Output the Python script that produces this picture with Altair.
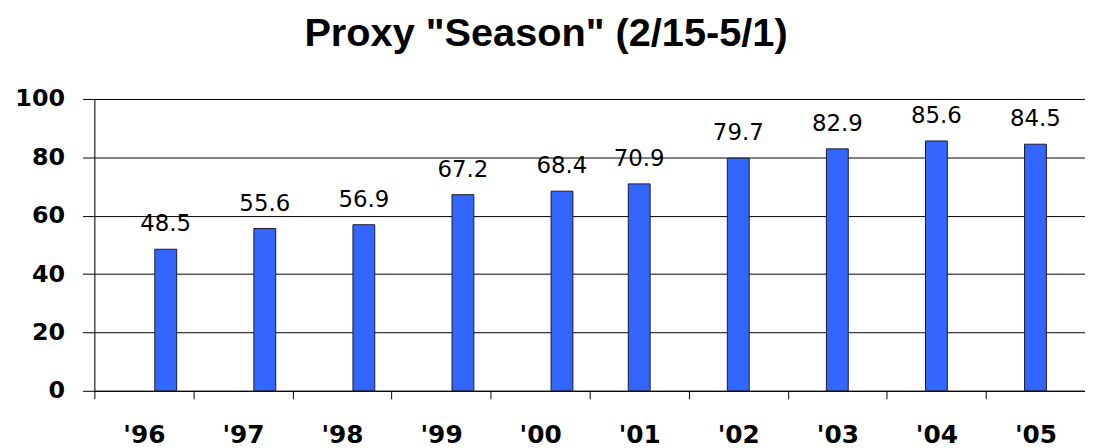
import altair as alt
import pandas as pd

years = ["'96", "'97", "'98", "'99", "'00", "'01", "'02", "'03", "'04", "'05"]
values = [48.5, 55.6, 56.9, 67.2, 68.4, 70.9, 79.7, 82.9, 85.6, 84.5]
series = ["early"] * 5 + ["late"] * 5
y_ticks = [0, 20, 40, 60, 80, 100]

df = pd.DataFrame({"year": years, "value": values, "series": series})

x_enc = alt.X("year:N", sort=years,
              scale=alt.Scale(paddingInner=0, paddingOuter=0),
              axis=alt.Axis(title=None, labelAngle=0, tickBand="extent",
                            labelFont="DejaVu Sans", labelFontSize=25,
                            labelFontWeight="bold", labelColor="black",
                            labelBaseline="alphabetic", labelPadding=44,
                            tickSize=8, tickColor="black", domainColor="black",
                            grid=False))
xoff = alt.XOffset("series:N",
                   scale=alt.Scale(domain=["late", "early"], range=[38.9, 82.9],
                                   paddingInner=0, paddingOuter=0))
y_enc = alt.Y("value:Q",
              scale=alt.Scale(domain=[0, 100], nice=False),
              axis=alt.Axis(title=None, values=y_ticks,
                            labelFont="DejaVu Sans", labelFontSize=24,
                            labelFontWeight="bold", labelColor="black",
                            labelPadding=18, tickSize=12, tickColor="black",
                            domainColor="black", grid=True, gridColor="black",
                            gridOpacity=1, gridWidth=1))

bars = alt.Chart(df).mark_bar(color="#3366FF", stroke="#1a1a2e", strokeWidth=1).encode(
    x=x_enc, xOffset=xoff, y=y_enc)

labels = alt.Chart(df).mark_text(font="DejaVu Sans", fontSize=23, color="black",
                                 baseline="alphabetic", dy=-18).encode(
    x=alt.X("year:N", sort=years), xOffset=alt.XOffset("series:N"), y="value:Q",
    text=alt.Text("value:Q", format=".1f"))

chart = alt.layer(bars, labels).properties(
    width=998, height=294,
    title=alt.TitleParams(text='Proxy "Season" (2/15-5/1)', font="Liberation Sans",
                          fontSize=40, fontWeight="bold", color="black",
                          anchor="middle", dx=-44, offset=33),
    autosize=alt.AutoSizeParams(type="none"),
    padding={"left": 87, "top": 90, "right": 0, "bottom": 56},
).configure_view(stroke=None).configure(background="white")

chart.save("out.html", embed_options={"renderer": "svg", "actions": False})
